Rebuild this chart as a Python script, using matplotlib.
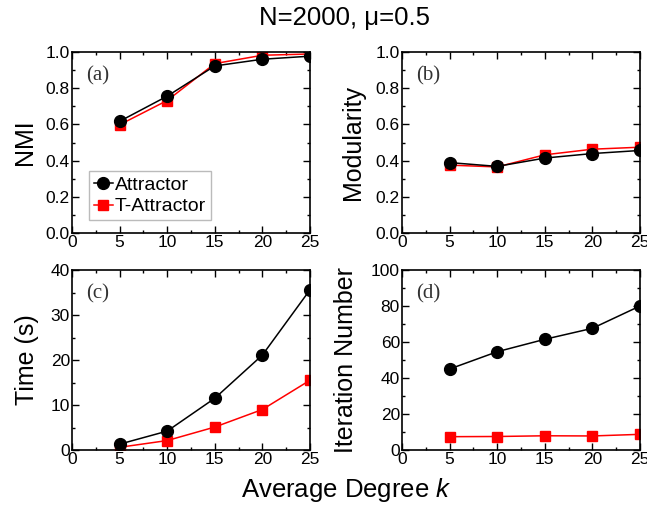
import matplotlib.pyplot as plt
from matplotlib.ticker import MultipleLocator

plt.rcParams['font.family'] = ['Liberation Sans', 'DejaVu Sans']
plt.rcParams['mathtext.fontset'] = 'custom'
plt.rcParams['mathtext.it'] = 'Liberation Sans:italic'

k = [5, 10, 15, 20, 25]

nmi_attr = [0.617, 0.756, 0.923, 0.960, 0.977]
nmi_tattr = [0.598, 0.732, 0.936, 0.982, 0.989]

mod_attr = [0.389, 0.368, 0.414, 0.439, 0.456]
mod_tattr = [0.375, 0.365, 0.432, 0.463, 0.474]

time_attr = [1.3, 4.2, 11.5, 21.1, 35.6]
time_tattr = [0.6, 2.1, 5.1, 9.0, 15.5]

iter_attr = [45.0, 54.6, 61.5, 67.6, 80.0]
iter_tattr = [7.4, 7.5, 7.9, 7.8, 8.7]

W, H = 647, 516
fig = plt.figure(figsize=(W / 100, H / 100), dpi=100)


def make_axes(x0, x1, y0, y1):
    return fig.add_axes([x0 / W, 1 - y1 / H, (x1 - x0) / W, (y1 - y0) / H])


# axes box in pixels, label x position in pixels
panels = [
    ((72, 310, 52, 233), 25, nmi_attr, nmi_tattr, 'NMI', (0, 1.0), 0.2, 0.1, '(a)'),
    ((402, 640, 52, 233), 353, mod_attr, mod_tattr, 'Modularity', (0, 1.0), 0.2, 0.1, '(b)'),
    ((72, 310, 270, 450), 27, time_attr, time_tattr, 'Time (s)', (0, 40), 10, 5, '(c)'),
    ((402, 640, 270, 450), 346, iter_attr, iter_tattr, 'Iteration Number', (0, 100), 20, 10, '(d)'),
]

axes = []
for box, lx, ya, yt, ylabel, ylim, major, minor, tag in panels:
    ax = make_axes(*box)
    axes.append(ax)
    ax.plot(k, ya, color='black', marker='o', ms=8.5, lw=1.1, label='Attractor', zorder=3)
    ax.plot(k, yt, color='red', marker='s', ms=7.5, lw=1.1, label='T-Attractor', zorder=2)
    ax.set_xlim(0, 25)
    ax.set_ylim(*ylim)
    ax.xaxis.set_major_locator(MultipleLocator(5))
    ax.xaxis.set_minor_locator(MultipleLocator(2.5))
    ax.yaxis.set_major_locator(MultipleLocator(major))
    ax.yaxis.set_minor_locator(MultipleLocator(minor))
    if ylim[1] == 1.0:
        ax.yaxis.set_major_formatter(lambda v, p: f'{v:.1f}')
    ax.tick_params(which='both', direction='in', top=True, right=True, labelsize=12.5, pad=1.5)
    ax.tick_params(which='major', length=5, width=1)
    ax.tick_params(which='minor', length=2.5, width=1)
    for s in ax.spines.values():
        s.set_linewidth(1.2)
    fig.text(lx / W, 1 - (box[2] + box[3]) / 2 / H, ylabel, rotation=90,
             ha='center', va='center', fontsize=18)
    ax.text(0.06, 0.87, tag, transform=ax.transAxes, fontsize=15,
            family='Liberation Serif', color='#333333', va='center')

leg = axes[0].legend(loc='lower left', bbox_to_anchor=(0.07, 0.07), fontsize=14,
                     handlelength=1.0, handletextpad=0.1, borderpad=0.25,
                     labelspacing=0.2, fancybox=False, framealpha=1,
                     edgecolor='#bbbbbb', borderaxespad=0)
leg.get_frame().set_linewidth(1.0)

fig.text(344 / W, 1 - 18 / H, 'N=2000, \u03bc=0.5', ha='center', va='center', fontsize=18.5)
fig.text(346 / W, 1 - 490 / H, 'Average Degree $k$', ha='center', va='center', fontsize=18.5)

fig.savefig('out.png', dpi=100)
